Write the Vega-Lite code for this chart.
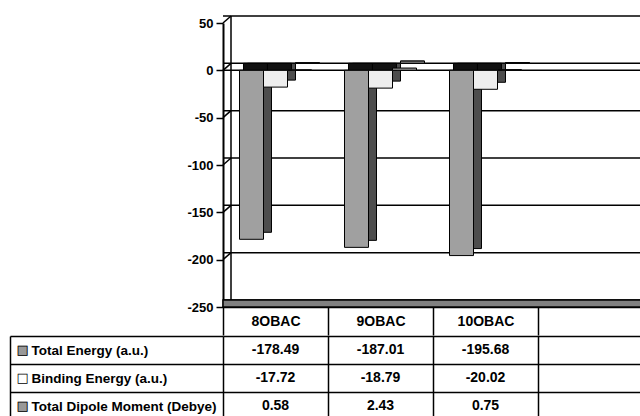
{
  "$schema": "https://vega.github.io/schema/vega-lite/v6.json",
  "background": "white",
  "padding": {"top": 15, "left": 9, "right": -4, "bottom": -4},
  "spacing": -7,
  "config": {
    "view": {"stroke": null},
    "font": "Liberation Sans",
    "locale": {
      "number": {"decimal": ".", "thousands": ",", "grouping": [3], "currency": ["$", ""], "minus": "-"}
    },
    "axis": {
      "labelFont": "Liberation Sans",
      "labelFontWeight": "bold",
      "labelFontSize": 13,
      "labelColor": "black",
      "domainColor": "black",
      "tickColor": "black",
      "gridColor": "black",
      "gridOpacity": 1,
      "labelOverlap": false
    }
  },
  "datasets": {
    "results": [
      {"compound": "8OBAC", "quantity": "Total Energy (a.u.)", "value": -178.49},
      {"compound": "9OBAC", "quantity": "Total Energy (a.u.)", "value": -187.01},
      {"compound": "10OBAC", "quantity": "Total Energy (a.u.)", "value": -195.68},
      {"compound": "8OBAC", "quantity": "Binding Energy (a.u.)", "value": -17.72},
      {"compound": "9OBAC", "quantity": "Binding Energy (a.u.)", "value": -18.79},
      {"compound": "10OBAC", "quantity": "Binding Energy (a.u.)", "value": -20.02},
      {"compound": "8OBAC", "quantity": "Total Dipole Moment (Debye)", "value": 0.58},
      {"compound": "9OBAC", "quantity": "Total Dipole Moment (Debye)", "value": 2.43},
      {"compound": "10OBAC", "quantity": "Total Dipole Moment (Debye)", "value": 0.75}
    ],
    "levels": [
      {"level": 50}, {"level": 0}, {"level": -50}, {"level": -100},
      {"level": -150}, {"level": -200}, {"level": -250}
    ]
  },
  "vconcat": [
    {
      "width": 420,
      "height": 284,
      "resolve": {"scale": {"x": "independent", "xOffset": "independent", "color": "independent"}},
      "layer": [
        {
          "data": {"name": "levels"},
          "mark": {"type": "rule", "xOffset": 8, "yOffset": -7, "stroke": "black", "strokeWidth": 1.5},
          "encoding": {
            "y": {
              "field": "level", "type": "quantitative", "title": null,
              "scale": {"domain": [-250, 50], "nice": false, "zero": false},
              "axis": {
                "values": [50, 0, -50, -100, -150, -200, -250],
                "domainWidth": 2, "tickSize": 7, "tickWidth": 1.5,
                "labelPadding": 3, "grid": false, "title": null
              }
            }
          }
        },
        {
          "data": {"values": [{}]},
          "mark": {"type": "rule", "xOffset": 8, "yOffset": -7, "y2Offset": -7, "stroke": "black", "strokeWidth": 1.5},
          "encoding": {
            "x": {"datum": 0, "type": "quantitative", "title": null, "scale": {"domain": [0, 1]}, "axis": null},
            "y": {"datum": 50, "type": "quantitative", "title": null},
            "y2": {"datum": -250}
          }
        },
        {
          "data": {"name": "levels"},
          "mark": {"type": "rule", "x2Offset": 8, "y2Offset": -7, "stroke": "black", "strokeWidth": 1.5},
          "encoding": {
            "x": {"datum": 0, "type": "quantitative", "title": null, "scale": {"domain": [0, 1]}, "axis": null},
            "x2": {"datum": 0},
            "y": {"field": "level", "type": "quantitative", "title": null},
            "y2": {"field": "level"}
          }
        },
        {
          "data": {"values": [{}]},
          "mark": {"type": "rect", "y2Offset": -7, "fill": "#808080", "stroke": "black", "strokeWidth": 1.5},
          "encoding": {
            "y": {"datum": -250, "type": "quantitative", "title": null},
            "y2": {"datum": -250}
          }
        },
        {
          "data": {"values": [{}]},
          "mark": {"type": "rule", "stroke": "black", "strokeWidth": 1.5},
          "encoding": {
            "y": {"datum": 0, "type": "quantitative", "title": null}
          }
        },
        {
          "data": {"name": "results"},
          "mark": {"type": "bar", "yOffset": -7, "y2Offset": -7, "stroke": "black", "strokeWidth": 1},
          "encoding": {
            "x": {"field": "compound", "type": "nominal", "title": null, "axis": null,
                  "scale": {"domain": ["8OBAC", "9OBAC", "10OBAC", " "], "paddingInner": 0, "paddingOuter": 0}},
            "xOffset": {"field": "quantity", "type": "nominal",
                        "scale": {"domain": ["Total Energy (a.u.)", "Binding Energy (a.u.)", "Total Dipole Moment (Debye)"], "paddingInner": 0, "paddingOuter": 0.6875, "align": 0.742}},
            "y": {"field": "value", "type": "quantitative", "title": null},
            "color": {"field": "quantity", "type": "nominal", "legend": null,
                      "scale": {"domain": ["Total Energy (a.u.)", "Binding Energy (a.u.)", "Total Dipole Moment (Debye)"], "range": ["#4d4d4d", "#4d4d4d", "#808080"]}}
          }
        },
        {
          "data": {"name": "results"},
          "transform": [{"filter": "datum.value > 0"}],
          "mark": {"type": "bar", "yOffset": -7, "stroke": "black", "strokeWidth": 1, "fill": "#808080"},
          "encoding": {
            "x": {"field": "compound", "type": "nominal", "title": null, "axis": null,
                  "scale": {"domain": ["8OBAC", "9OBAC", "10OBAC", " "], "paddingInner": 0, "paddingOuter": 0}},
            "xOffset": {"field": "quantity", "type": "nominal",
                        "scale": {"domain": ["Total Energy (a.u.)", "Binding Energy (a.u.)", "Total Dipole Moment (Debye)"], "paddingInner": 0, "paddingOuter": 0.6875, "align": 0.742}},
            "y": {"field": "value", "type": "quantitative", "title": null}
          }
        },
        {
          "data": {"name": "results"},
          "transform": [{"filter": "datum.value < 0"}],
          "mark": {"type": "bar", "y2Offset": -7, "stroke": "black", "strokeWidth": 1, "fill": "#111111"},
          "encoding": {
            "x": {"field": "compound", "type": "nominal", "title": null, "axis": null,
                  "scale": {"domain": ["8OBAC", "9OBAC", "10OBAC", " "], "paddingInner": 0, "paddingOuter": 0}},
            "xOffset": {"field": "quantity", "type": "nominal",
                        "scale": {"domain": ["Total Energy (a.u.)", "Binding Energy (a.u.)", "Total Dipole Moment (Debye)"], "paddingInner": 0, "paddingOuter": 0.6875, "align": 0.621}},
            "y": {"datum": 0, "type": "quantitative", "title": null},
            "y2": {"datum": 0}
          }
        },
        {
          "data": {"name": "results"},
          "mark": {"type": "bar", "stroke": "black", "strokeWidth": 1},
          "encoding": {
            "x": {"field": "compound", "type": "nominal", "title": null,
                  "scale": {"domain": ["8OBAC", "9OBAC", "10OBAC", " "], "paddingInner": 0, "paddingOuter": 0},
                  "axis": {"orient": "bottom", "title": null, "domain": true, "domainWidth": 1.5,
                           "tickBand": "extent", "tickSize": 28, "tickWidth": 1.5,
                           "labelPadding": -14, "labelBaseline": "middle", "labelAlign": "center",
                           "labelAngle": 0, "labelFontSize": 14}},
            "xOffset": {"field": "quantity", "type": "nominal",
                        "scale": {"domain": ["Total Energy (a.u.)", "Binding Energy (a.u.)", "Total Dipole Moment (Debye)"], "paddingInner": 0, "paddingOuter": 0.6875, "align": 0.5}},
            "y": {"field": "value", "type": "quantitative", "title": null},
            "color": {"field": "quantity", "type": "nominal", "legend": null,
                      "scale": {"domain": ["Total Energy (a.u.)", "Binding Energy (a.u.)", "Total Dipole Moment (Debye)"], "range": ["#a0a0a0", "#eeeeee", "#909090"]}}
          }
        }
      ]
    },
    {
      "width": 420,
      "height": 84,
      "data": {"name": "results"},
      "resolve": {"axis": {"y": "independent"}},
      "layer": [
        {
          "mark": {"type": "text", "font": "Liberation Sans", "fontWeight": "bold", "fontSize": 14, "color": "black"},
          "encoding": {
            "x": {"field": "compound", "type": "nominal", "title": null,
                  "scale": {"domain": ["8OBAC", "9OBAC", "10OBAC", " "], "paddingInner": 0, "paddingOuter": 0},
                  "axis": {"orient": "bottom", "title": null, "labels": false, "ticks": false, "tickSize": 0,
                           "labelPadding": 0, "domain": false,
                           "grid": true, "tickBand": "extent", "gridWidth": 1.5}},
            "y": {"field": "quantity", "type": "nominal", "title": null,
                  "scale": {"domain": ["Total Energy (a.u.)", "Binding Energy (a.u.)", "Total Dipole Moment (Debye)"], "paddingInner": 0, "paddingOuter": 0},
                  "axis": {"orient": "left", "title": null, "domain": false, "ticks": true,
                           "tickBand": "extent", "tickSize": 213, "tickWidth": 1.5,
                           "grid": true, "gridWidth": 1.5, "labelFontSize": 13.5,
                           "labelAlign": "left", "labelPadding": -21, "labelBaseline": "middle", "labelLimit": 300}},
            "text": {"field": "value", "type": "quantitative", "format": ".2f"}
          }
        },
        {
          "mark": {"type": "text", "opacity": 0},
          "encoding": {
            "x": {"field": "compound", "type": "nominal", "title": null},
            "y": {"field": "quantity", "type": "nominal", "title": null,
                  "axis": {"orient": "left", "offset": 213, "title": null, "domain": true, "domainWidth": 1.5,
                           "ticks": false, "tickSize": 0, "grid": false,
                           "labelExpr": "'■'", "labelFont": "DejaVu Sans", "labelFontWeight": "normal",
                           "labelAlign": "left", "labelPadding": -6,
                           "labelColor": {"condition": {"test": "datum.value === 'Binding Energy (a.u.)'", "value": "white"}, "value": "#999999"}}},
            "text": {"field": "value", "type": "quantitative", "format": ".2f"}
          }
        },
        {
          "mark": {"type": "text", "opacity": 0},
          "encoding": {
            "x": {"field": "compound", "type": "nominal", "title": null},
            "y": {"field": "quantity", "type": "nominal", "title": null,
                  "axis": {"orient": "left", "offset": 213, "title": null, "domain": false,
                           "ticks": false, "tickSize": 0, "grid": false,
                           "labelExpr": "'□'", "labelFont": "DejaVu Sans", "labelFontWeight": "normal",
                           "labelAlign": "left", "labelPadding": -6, "labelColor": "black"}},
            "text": {"field": "value", "type": "quantitative", "format": ".2f"}
          }
        }
      ]
    }
  ]
}
